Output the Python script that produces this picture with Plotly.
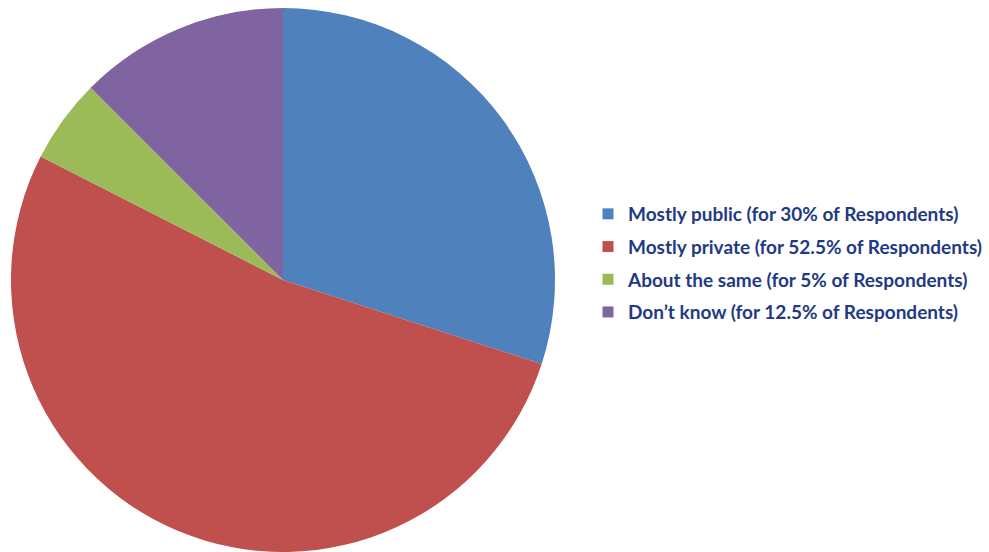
import plotly.graph_objects as go

labels = ["Mostly public (for 30% of Respondents)",
          "Mostly private (for 52.5% of Respondents)",
          "About the same (for 5% of Respondents)",
          "Don\u2019t know (for 12.5% of Respondents)"]
values = [30, 52.5, 5, 12.5]
colors = ["#4F81BD", "#C0504D", "#9BBB59", "#8064A2"]

W, H = 989, 552
fig = go.Figure()
fig.add_trace(go.Pie(
    labels=labels, values=values, sort=False, direction="clockwise", rotation=0,
    marker=dict(colors=colors, line=dict(width=0)),
    textinfo="none", hoverinfo="label+percent", showlegend=False,
    domain=dict(x=[11 / W, 555 / W], y=[0, 1 - 8 / H]),
))
for i, (lab, col) in enumerate(zip(labels, colors)):
    fig.add_trace(go.Scatter(
        x=[None], y=[None], mode="markers", name=lab, legendgroup=f"g{i}",
        marker=dict(symbol="square", size=11, color=col),
        showlegend=True,
    ))
fig.update_layout(
    width=W, height=H, margin=dict(l=0, r=0, t=0, b=0),
    paper_bgcolor="white", plot_bgcolor="white",
    xaxis=dict(visible=False), yaxis=dict(visible=False),
    legend=dict(x=588 / W, xanchor="left", y=1 - 263 / H, yanchor="middle",
                tracegroupgap=5, itemwidth=30,
                font=dict(family="Lato", size=19, color="#1F3A85", weight="bold"),
                bgcolor="rgba(0,0,0,0)"),
    showlegend=True,
)
fig.write_html("out.html")
